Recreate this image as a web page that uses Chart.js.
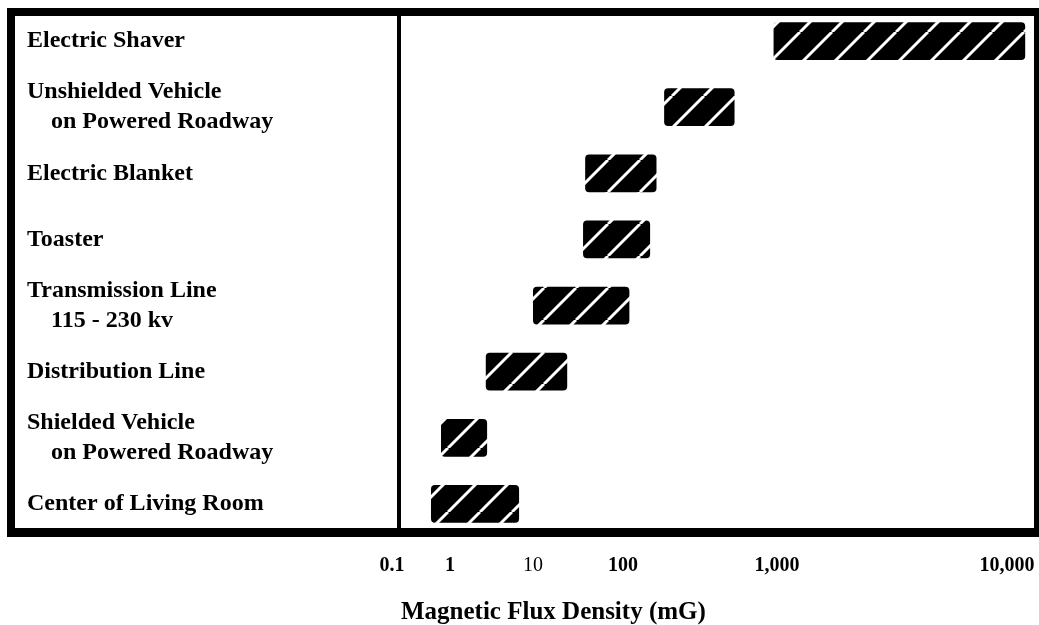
<!DOCTYPE html>
<html>
<head>
<meta charset="utf-8">
<script src="https://cdn.jsdelivr.net/npm/chart.js@4.4.1/dist/chart.umd.min.js"></script>
<style>
  html, body { margin: 0; padding: 0; background: #fff; }
  canvas { display: block; }
</style>
</head>
<body>
<canvas id="c" width="1039" height="625"></canvas>
<script>
// ---- data ----
const categories = [
  'Electric Shaver',
  ['Unshielded Vehicle', '    on Powered Roadway'],
  'Electric Blanket',
  'Toaster',
  ['Transmission Line', '    115 - 230 kv'],
  'Distribution Line',
  ['Shielded Vehicle', '    on Powered Roadway'],
  'Center of Living Room'
];
const lowValues  = [950, 185, 38, 36, 10, 2.7, 0.7, 0.47];
const highValues = [12000, 530, 165, 150, 110, 24, 2.8, 6.8];
const tickValues = [0.1, 1, 10, 100, 1000, 10000];
const tickLabels = ['0.1', '1', '10', '100', '1,000', '10,000'];
const axisTitle = 'Magnetic Flux Density (mG)';

// ---- scale: logarithmic decades drawn with the uneven spacing of the original axis ----
const DECADE_FRACTIONS = [-0.0142, 0.0774, 0.2085, 0.3507, 0.594, 0.9573];
const DECADES = tickValues.map(v => Math.log10(v));

class PiecewiseLogScale extends Chart.LogarithmicScale {
  buildTicks() {
    return tickValues.map(v => ({ value: v }));
  }
  _fracForValue(value) {
    const d = Math.log10(value);
    let i = 0;
    while (i < DECADES.length - 2 && d > DECADES[i + 1]) i++;
    const t = (d - DECADES[i]) / (DECADES[i + 1] - DECADES[i]);
    return DECADE_FRACTIONS[i] + t * (DECADE_FRACTIONS[i + 1] - DECADE_FRACTIONS[i]);
  }
  getPixelForValue(value) {
    if (value === undefined || value === null || !(value > 0)) value = this.min;
    const f = this._fracForValue(value);
    return this.left + f * (this.right - this.left);
  }
  getValueForPixel(pixel) {
    const f = (pixel - this.left) / (this.right - this.left);
    let i = 0;
    while (i < DECADE_FRACTIONS.length - 2 && f > DECADE_FRACTIONS[i + 1]) i++;
    const t = (f - DECADE_FRACTIONS[i]) / (DECADE_FRACTIONS[i + 1] - DECADE_FRACTIONS[i]);
    return Math.pow(10, DECADES[i] + t * (DECADES[i + 1] - DECADES[i]));
  }
}
PiecewiseLogScale.id = 'piecewiseLog';
PiecewiseLogScale.defaults = {};
Chart.register(PiecewiseLogScale);

// ---- hatch pattern ----
const canvas = document.getElementById('c');
const mainCtx = canvas.getContext('2d');
function makeHatch() {
  const s = 32;
  const tile = document.createElement('canvas');
  tile.width = s; tile.height = s;
  const g = tile.getContext('2d');
  g.fillStyle = '#000';
  g.fillRect(0, 0, s, s);
  g.strokeStyle = '#fff';
  g.lineWidth = 3;
  g.beginPath();
  for (const o of [-s, 0, s]) { g.moveTo(o, s); g.lineTo(o + s, 0); }
  g.stroke();
  return mainCtx.createPattern(tile, 'repeat');
}
const hatch = makeHatch();

// ---- frame plugin ----
const framePlugin = {
  id: 'frame',
  afterDraw(chart) {
    const ca = chart.chartArea;
    const ctx = chart.ctx;
    const L = 7, T = ca.top, R = ca.right + 5, B = ca.bottom;
    ctx.save();
    ctx.fillStyle = '#000';
    ctx.fillRect(L, T, R - L, 8);          // top
    ctx.fillRect(L, T, 8, B - T);          // left
    ctx.fillRect(L, B - 9, R - L, 9);      // bottom
    ctx.fillRect(ca.right, T, 5, B - T);   // right
    ctx.fillRect(ca.left - 4, T, 4, B - T);// divider
    ctx.restore();
  }
};

const serif = 'Liberation Serif, "Times New Roman", serif';

new Chart(mainCtx, {
  type: 'bar',
  data: {
    labels: categories,
    datasets: [{
      data: lowValues.map((lo, i) => [lo, highValues[i]]),
      backgroundColor: hatch,
      borderWidth: 0,
      borderRadius: 4,
      borderSkipped: false,
      barPercentage: 0.57,
      categoryPercentage: 1
    }]
  },
  options: {
    indexAxis: 'y',
    responsive: false,
    animation: false,
    devicePixelRatio: 1,
    layout: { padding: { left: 27, top: 8, right: 5, bottom: 0 } },
    plugins: { legend: { display: false }, tooltip: { enabled: false } },
    scales: {
      x: {
        type: 'piecewiseLog',
        min: 0.1,
        max: 12000,
        grid: { display: false, drawTicks: false },
        border: { display: false },
        ticks: {
          autoSkip: false,
          maxRotation: 0,
          minRotation: 0,
          padding: 17,
          color: '#000',
          font: (ctx) => ({ family: serif, size: 20, weight: ctx.index === 2 ? 'normal' : 'bold', lineHeight: 1.2 }),
          callback: (v, i) => tickLabels[i]
        },
        title: {
          display: true,
          text: axisTitle,
          align: 'start',
          color: '#000',
          font: { family: serif, size: 25, weight: 'bold', lineHeight: 1 },
          padding: { top: 0, bottom: 0 }
        },
        afterFit(s) { s.height = 88; s.paddingLeft = 0; s.paddingRight = 0; }
      },
      y: {
        grid: { display: false, drawTicks: false },
        border: { display: false },
        ticks: {
          autoSkip: false,
          crossAlign: 'far',
          color: '#000',
          font: { family: serif, size: 24, weight: 'bold', lineHeight: 1.25 }
        },
        afterFit(s) { s.width = 374; s.paddingTop = 0; s.paddingBottom = 0; }
      }
    }
  },
  plugins: [framePlugin]
});
</script>
</body>
</html>
